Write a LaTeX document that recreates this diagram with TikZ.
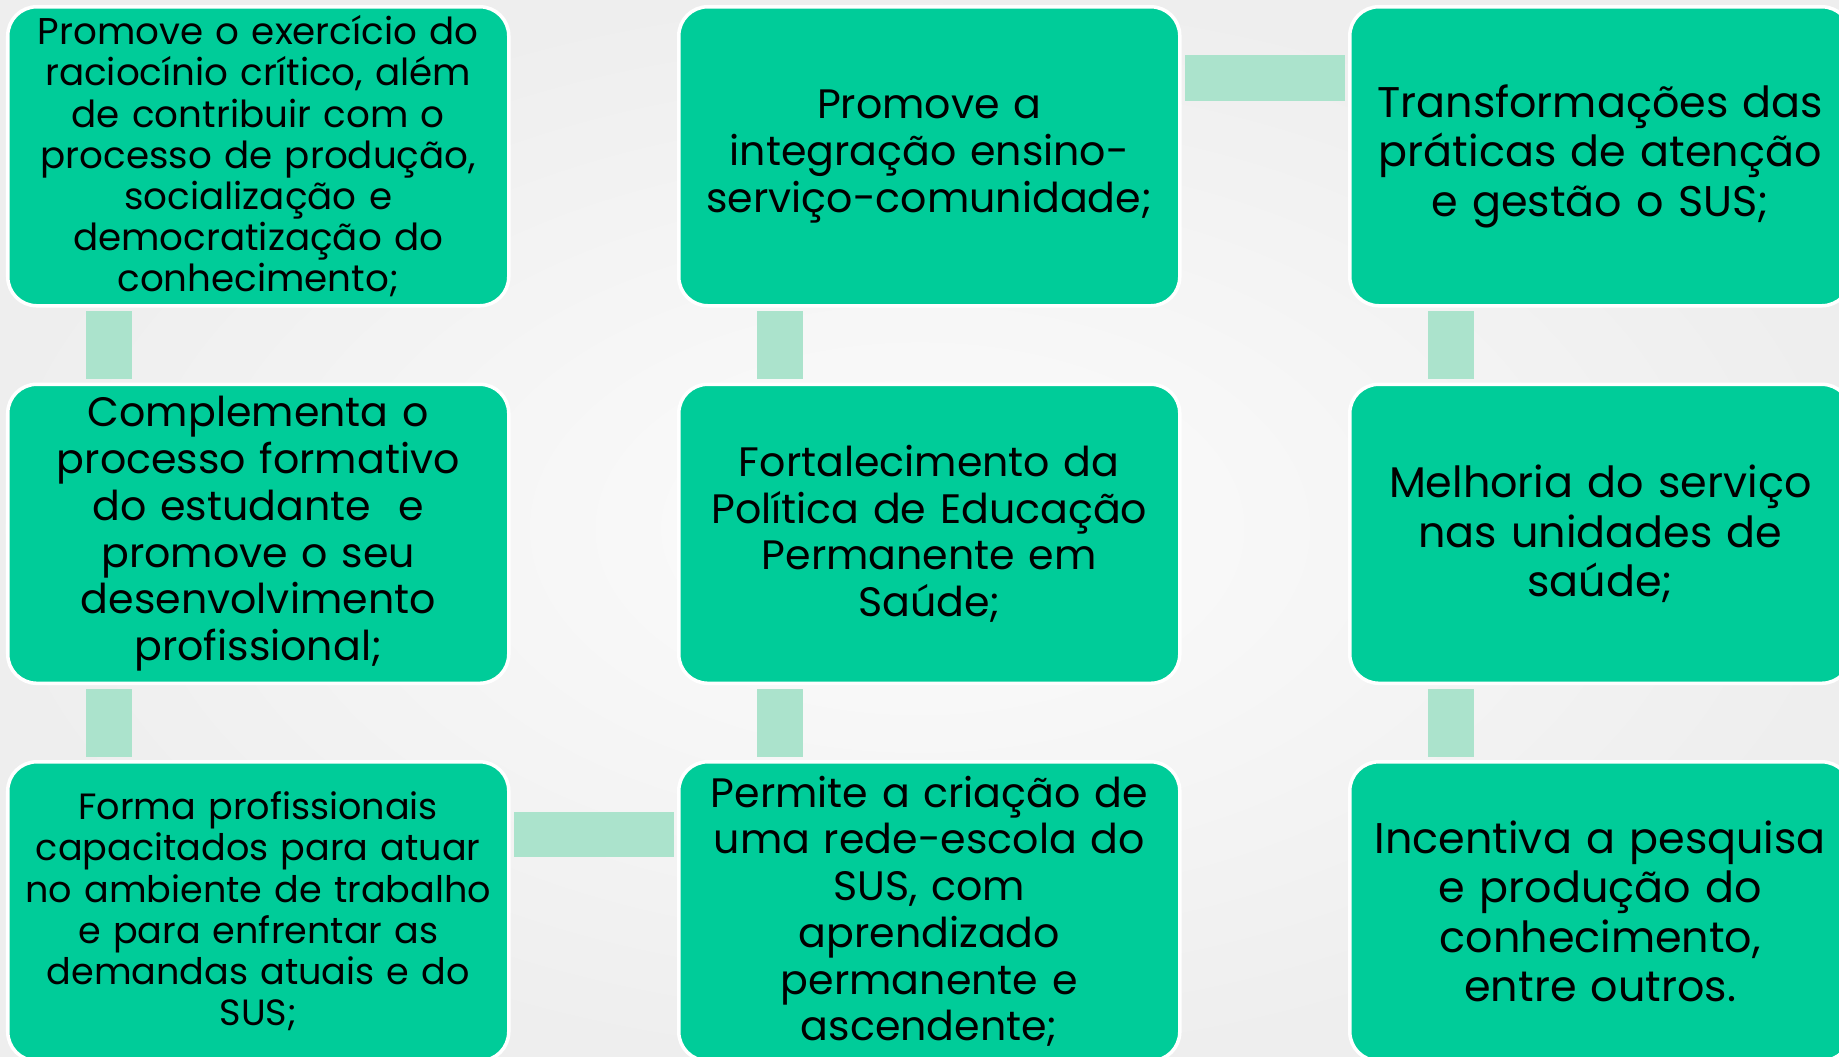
\documentclass[tikz,border=0pt]{standalone}
\usepackage{fontspec}
\setmainfont{Poppins}
\usetikzlibrary{positioning}
\definecolor{caixaverde}{HTML}{00CC99}
\definecolor{eloverde}{HTML}{ABE3CC}
\tikzstyle{etapa} = [rectangle, rounded corners=0.29cm, fill=caixaverde,
draw=white, line width=1pt, minimum width=5.01cm, minimum height=2.99cm,
inner sep=0pt, text width=4.95cm, align=center, text=black]
\tikzstyle{elo} = [fill=eloverde]
\tikzstyle{letra pequena} = [font=\fontsize{10.4}{11.7}\selectfont]
\tikzstyle{letra media} = [font=\fontsize{11.7}{13.3}\selectfont]
\tikzstyle{letra grande} = [font=\fontsize{12.2}{14}\selectfont]

\begin{document}
\begin{tikzpicture}[node distance=0.75cm and 1.665cm]
  \clip (0,0) rectangle (18.39,-10.567);
  \shade[inner color=gray!2, outer color=gray!13] (0,0) rectangle (18.39,-10.567);

  % coluna 1 (desce)
  \node[etapa, letra pequena, font=\fontsize{10.6}{11.7}\selectfont, anchor=north west] (c1r1) at (0.06,-0.05)
    {Promove o exercício do\\ raciocínio crítico, além\\ de contribuir com o\\
     processo de produção,\\ socialização e\\ democratização do\\ conhecimento;};
  \node[etapa, letra media, below=of c1r1] (c1r2)
    {Complementa o\\ processo formativo\\ do estudante~ e\\ promove o seu\\
     desenvolvimento\\ profissional;};
  \node[etapa, letra pequena, below=of c1r2] (c1r3)
    {Forma profissionais\\ capacitados para atuar\\ no ambiente de trabalho\\
     e para enfrentar as\\ demandas atuais e do\\ SUS;};

  % coluna 2 (sobe)
  \node[etapa, letra media, right=of c1r3] (c2r3)
    {Permite a criação de\\ uma rede-escola do\\ SUS, com\\ aprendizado\\
     permanente e\\ ascendente;};
  \node[etapa, letra media, above=of c2r3] (c2r2)
    {Fortalecimento da\\ Política de Educação\\ Permanente em\\ Saúde;};
  \node[etapa, letra media, above=of c2r2] (c2r1)
    {Promove a\\ integração ensino-\\ serviço-comunidade;};

  % coluna 3 (desce)
  \node[etapa, letra grande, right=of c2r1] (c3r1)
    {Transformações das\\ práticas de atenção\\ e gestão o SUS;};
  \node[etapa, letra grande, below=of c3r1] (c3r2)
    {Melhoria do serviço\\ nas unidades de\\ saúde;};
  \node[etapa, letra grande, below=of c3r2] (c3r3)
    {Incentiva a pesquisa\\ e produção do\\ conhecimento,\\ entre outros.};

  % elos
  \fill[elo] ([xshift=0.797cm,yshift=-0.035cm]c1r1.south west) rectangle ([xshift=1.255cm,yshift=0.035cm]c1r2.north west);
  \fill[elo] ([xshift=0.797cm,yshift=-0.035cm]c1r2.south west) rectangle ([xshift=1.255cm,yshift=0.035cm]c1r3.north west);
  \fill[elo] ([xshift=0.035cm,yshift=-0.516cm]c1r3.north east) rectangle ([xshift=-0.035cm,yshift=-0.973cm]c2r3.north west);
  \fill[elo] ([xshift=0.797cm,yshift=0.035cm]c2r3.north west) rectangle ([xshift=1.255cm,yshift=-0.035cm]c2r2.south west);
  \fill[elo] ([xshift=0.797cm,yshift=0.035cm]c2r2.north west) rectangle ([xshift=1.255cm,yshift=-0.035cm]c2r1.south west);
  \fill[elo] ([xshift=0.035cm,yshift=-0.504cm]c2r1.north east) rectangle ([xshift=-0.035cm,yshift=-0.962cm]c3r1.north west);
  \fill[elo] ([xshift=0.797cm,yshift=-0.035cm]c3r1.south west) rectangle ([xshift=1.255cm,yshift=0.035cm]c3r2.north west);
  \fill[elo] ([xshift=0.797cm,yshift=-0.035cm]c3r2.south west) rectangle ([xshift=1.255cm,yshift=0.035cm]c3r3.north west);
\end{tikzpicture}
\end{document}
